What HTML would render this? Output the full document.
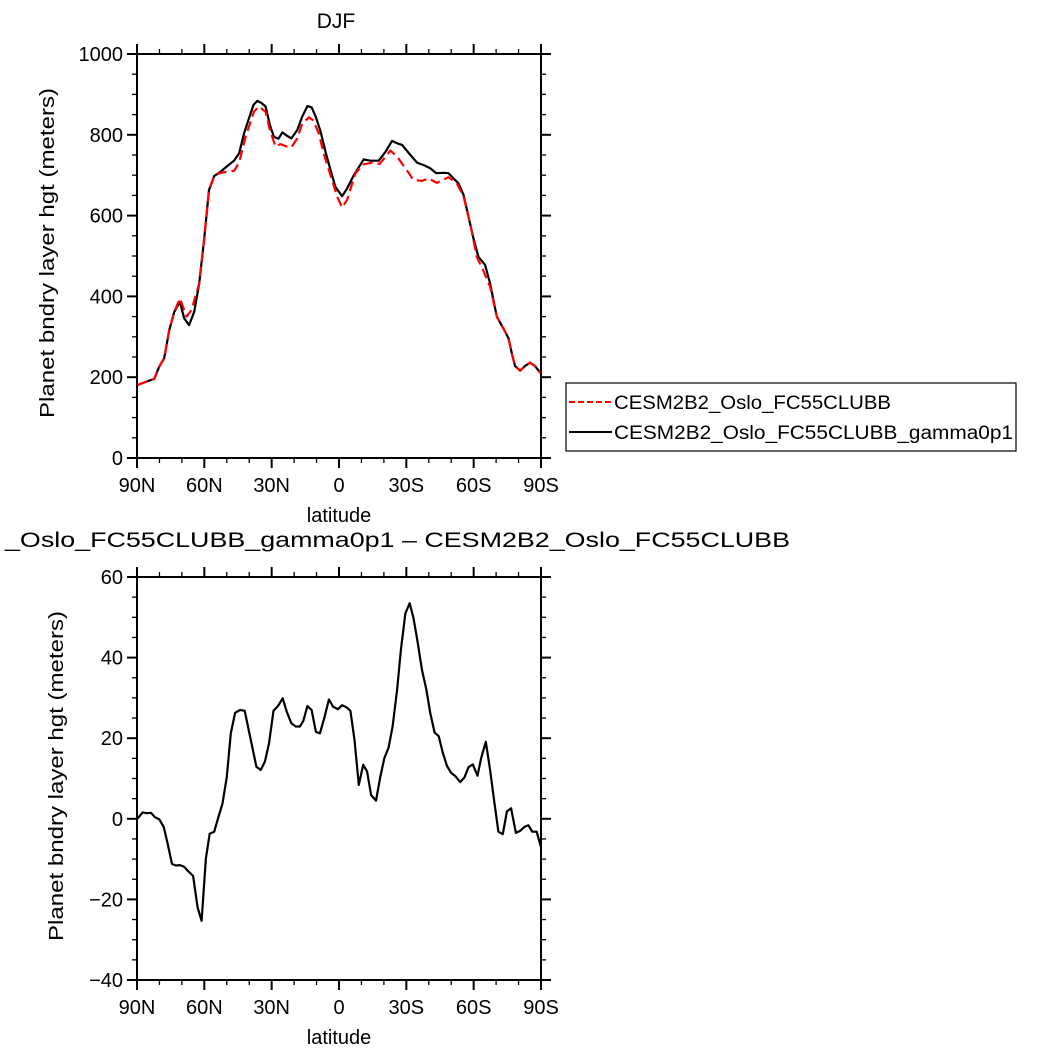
<!DOCTYPE html>
<html><head><meta charset="utf-8"><style>
html,body{margin:0;padding:0;background:#fff}
svg{display:block}
text{font-family:"Liberation Sans",sans-serif;fill:#000}
</style></head><body>
<svg id="chart" width="1054" height="1054" viewBox="0 0 1054 1054">
<text x="336" y="28" font-size="21" text-anchor="middle">DJF</text>
<g id="top"></g>
<g id="bot"></g>
<text x="5" y="547" font-size="21" textLength="785" lengthAdjust="spacingAndGlyphs">_Oslo_FC55CLUBB_gamma0p1 – CESM2B2_Oslo_FC55CLUBB</text>
<g>
<rect x="566" y="383" width="450" height="68" fill="#fff" stroke="#000" stroke-width="1.2"/>
<line x1="569" y1="402" x2="612" y2="402" stroke="#f00" stroke-width="2" stroke-dasharray="6,3"/>
<text x="614" y="409" font-size="19" textLength="277" lengthAdjust="spacingAndGlyphs">CESM2B2_Oslo_FC55CLUBB</text>
<line x1="569" y1="432" x2="612" y2="432" stroke="#000" stroke-width="2"/>
<text x="614" y="439" font-size="19" textLength="399" lengthAdjust="spacingAndGlyphs">CESM2B2_Oslo_FC55CLUBB_gamma0p1</text>
</g>
</svg>
<script>
const xTickVals=[90,60,30,0,-30,-60,-90];
const xTickLabels=["90N","60N","30N","0","30S","60S","90S"];
const topYTicks=[0,200,400,600,800,1000];
const botYTicks=[-40,-20,0,20,40,60];
const gammaLat=[89.7,86.8,82.3,80.1,77.9,75.6,73.4,70.9,69,66.8,64.5,62.3,60.1,57.9,55.6,52.7,49.7,46.8,44.5,42.3,40.1,38.1,36.4,34.6,32.7,30.8,29,27,25.2,23.3,21.2,18.6,16.4,14.1,12.2,10.4,8.2,6,3.8,1.6,-1.4,-3.6,-6.6,-11,-14,-17.7,-20.7,-23.6,-25.9,-28.1,-31.8,-34.8,-37.7,-40.7,-43.3,-46.6,-48.8,-51,-53.2,-55.5,-57.7,-59.9,-62.1,-65.1,-67.3,-70.3,-73.2,-75.5,-77,-78.4,-80.7,-82.9,-85.1,-87.3,-89.8];
const gammaVal=[181,187,196,226,247,317,362,387,346,329,362,432,540,663,698,709,723,736,754,804,841,874,884,879,870,824,795,790,806,798,791,812,845,871,868,845,808,758,713,671,648,667,700,739,736,736,758,785,779,775,750,731,725,717,705,706,705,692,680,651,597,544,498,478,432,350,321,296,259,228,216,228,236,228,210];
const baseLat=[89.7,86.8,82.3,80.1,77.9,75.6,73.4,70.9,67.9,65.7,62.3,60.1,57.9,55.6,53.3,49.6,46.8,44.5,41.6,37.9,35.7,32.7,30.8,28.3,26.1,23.3,21.2,18.6,16.4,13.4,11.5,9,6.8,3.8,0.8,-1.4,-3.6,-7.3,-11,-14.8,-18.1,-22.9,-25.9,-29.6,-33.2,-37,-39.9,-43.6,-48.8,-52.5,-55.5,-58.4,-61.4,-64.2,-67.3,-70.3,-73.2,-75.5,-77,-78.4,-80.7,-82.9,-85.1,-87.3,-89.8];
const baseVal=[181,187,196,226,247,317,362,395,350,366,432,540,663,698,705,709,711,731,795,857,870,857,812,771,777,771,769,791,828,843,836,803,754,700,647,620,639,705,727,731,728,761,746,717,688,686,692,681,695,680,647,581,498,465,424,350,321,296,259,228,216,228,236,228,210];
const diffLat=[89.7,87.5,85.6,83.8,82,80.1,78.1,76.4,74.4,72.7,70.8,69,67.2,65,63,61.2,59.3,57.6,55.6,53.9,51.9,50,48.2,46.3,44.1,42,39.6,36.8,34.9,33,31.2,29.2,27.2,25.1,23.3,21.2,19.3,17.4,15.9,14.1,12.2,10.3,8.5,6.4,4.5,2.6,0.5,-1.4,-3.3,-5.1,-6.9,-8.8,-10.8,-12.5,-14.3,-16.5,-18.4,-20.2,-22.1,-23.9,-25.9,-27.6,-29.6,-31.5,-33.2,-35,-37,-38.8,-40.7,-42.6,-44.4,-46.3,-48.1,-50,-51.8,-54,-55.9,-57.7,-59.6,-61.7,-63.3,-65.4,-67.3,-69.2,-71,-73,-74.8,-76.7,-78.8,-80.7,-82.6,-84.4,-86.1,-88.1,-89.9];
const diffVal=[0.1,1.6,1.4,1.5,0.4,-0.1,-2,-6,-11.2,-11.6,-11.5,-11.9,-13,-14.2,-22,-25.3,-9.8,-3.7,-3.2,0.1,3.8,10.4,21.2,26.3,27,26.8,20.4,12.9,12.1,14.2,18.7,26.8,28,29.9,26.6,23.7,22.9,22.9,24.3,28,27,21.6,21.2,25.3,29.6,27.8,27.2,28.2,27.7,26.8,19.6,8.4,13.4,11.7,5.9,4.5,10.4,15,17.7,22.9,32,41.9,51,53.5,49.8,43.9,36.9,32.4,26.2,21.4,20.5,16.3,13.1,11.4,10.6,9.1,10.3,12.8,13.5,10.7,15,19.1,12.1,4.2,-3.2,-3.8,1.8,2.6,-3.5,-3,-2,-1.6,-3.2,-3.2,-6.9];

const NS='http://www.w3.org/2000/svg';
function mk(parent,tag,attrs){const e=document.createElementNS(NS,tag);for(const k in attrs)e.setAttribute(k,attrs[k]);parent.appendChild(e);return e;}
const X0=137,X1=541;
function xs(lat){return X0+(90-lat)/180*(X1-X0);}

function panel(g,top,bot,ymin,ymax,yticks,minorStep,ytitle,tx,tyc,prefix){
  const ys=v=>bot-(v-ymin)/(ymax-ymin)*(bot-top);
  const fr=mk(g,'rect',{x:X0,y:top,width:X1-X0,height:bot-top,fill:'none',stroke:'#000','stroke-width':2});
  
  
  for(let lat=90;lat>=-90;lat-=10){
    const x=xs(lat),maj=lat%30===0,L=maj?10:5;
    const t1=mk(g,'line',{x1:x,y1:bot,x2:x,y2:bot+L,stroke:'#000','stroke-width':maj?2:1.3});
    
    
    const t2=mk(g,'line',{x1:x,y1:top,x2:x,y2:top-L,stroke:'#000','stroke-width':maj?2:1.3});
    
    
  }
  xTickVals.forEach((v,i)=>{
    const t=mk(g,'text',{x:xs(v),y:bot+34,'font-size':20,'text-anchor':'middle'});
    t.textContent=xTickLabels[i];
    
    
  });
  const xl=mk(g,'text',{x:339,y:bot+64,'font-size':20,'text-anchor':'middle'});
  xl.textContent='latitude';
  
  
  for(let v=ymin;v<=ymax+1e-9;v+=minorStep){
    const y=ys(v),maj=yticks.some(t=>Math.abs(t-v)<1e-6),L=maj?10:5;
    const a=mk(g,'line',{x1:X0,y1:y,x2:X0-L,y2:y,stroke:'#000','stroke-width':maj?2:1.3});
    
    
    const b=mk(g,'line',{x1:X1,y1:y,x2:X1+L,y2:y,stroke:'#000','stroke-width':maj?2:1.3});
    
    
  }
  yticks.forEach(v=>{
    const t=mk(g,'text',{x:X0-14,y:ys(v)+7,'font-size':20,'text-anchor':'end'});
    t.textContent=(v<0?'\u2212'+(-v):String(v));
    
    
  });
  const yt=mk(g,'text',{x:-165,y:0,'font-size':20,textLength:330,lengthAdjust:'spacingAndGlyphs',transform:`translate(${tx},${tyc}) rotate(-90)`});
  yt.textContent=ytitle;
  
  
  return ys;
}
function series(g,lats,vals,ys,color,dash,name){
  const pts=lats.map((l,i)=>xs(l).toFixed(1)+','+ys(vals[i]).toFixed(1)).join(' ');
  const p=mk(g,'polyline',{points:pts,fill:'none',stroke:color,'stroke-width':2.2,'stroke-linejoin':'round'});
  if(dash)p.setAttribute('stroke-dasharray',dash);
  
  
}
const gt=document.getElementById('top');
const ysT=panel(gt,54,458,0,1000,topYTicks,50,'Planet bndry layer hgt (meters)',54,253,'top');
series(gt,gammaLat,gammaVal,ysT,'#000',null,'line-gamma0p1');
series(gt,baseLat,baseVal,ysT,'#f00','10,5','line-base');
const gb=document.getElementById('bot');
const ysB=panel(gb,577,980,-40,60,botYTicks,5,'Planet bndry layer hgt (meters)',63,776,'bottom');
series(gb,diffLat,diffVal,ysB,'#000',null,'line-difference');
</script>
</body></html>
